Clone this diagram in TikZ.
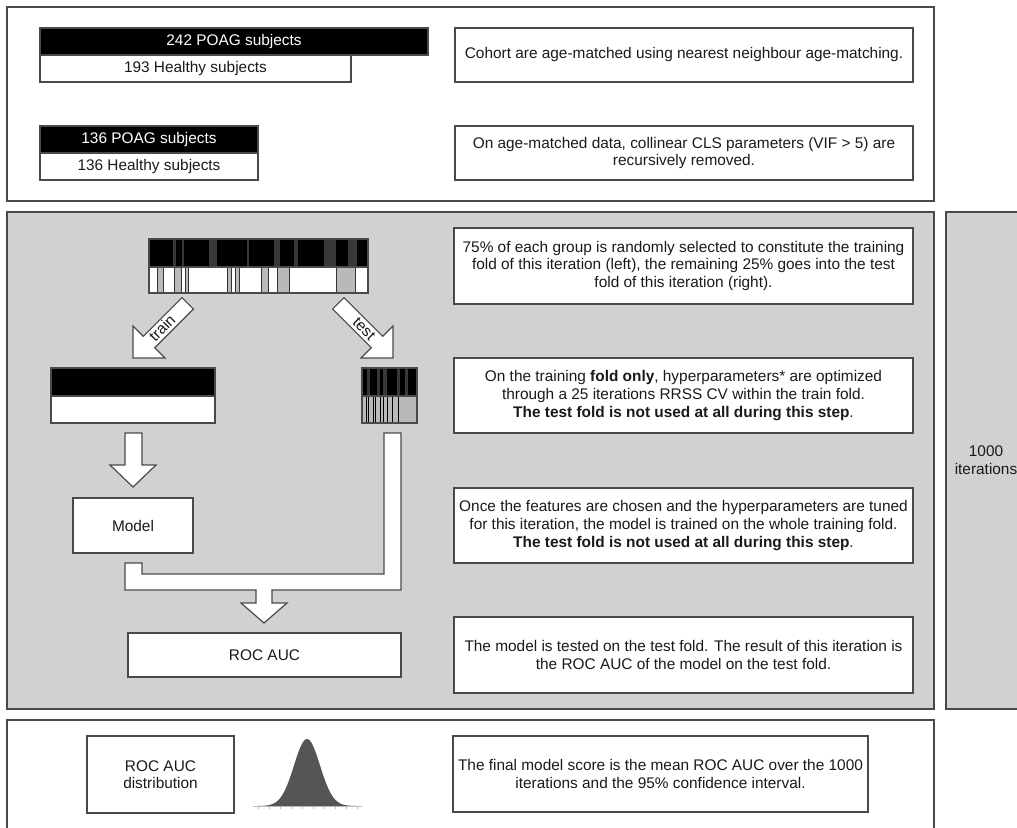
\documentclass[tikz,border=0pt]{standalone}
\usepackage{fontspec}
\setmainfont{Liberation Sans}
\definecolor{linecol}{HTML}{4A4A4A}
\definecolor{panelgray}{HTML}{D1D1D1}
\definecolor{txtcol}{HTML}{1A1A1A}
\definecolor{curvecol}{HTML}{555555}
\newcommand{\myfs}{\fontsize{15.4}{17.6}\selectfont}
\tikzset{
  ln/.style={draw=linecol, line width=1.2pt},
  frame/.style={ln},
  tbox/.style={ln, fill=white, align=center, inner sep=0pt, text=txtcol, font=\myfs},
  blackbar/.style={ln, fill=black, text=white, inner sep=0pt, font=\myfs},
  whitebar/.style={ln, fill=white, text=txtcol, inner sep=0pt, font=\myfs},
  blockarrow/.style={ln, fill=white, line join=miter},
  darkstripe/.style={fill=black!78},
  lightstripe/.style={fill=gray!55},
  stripeline/.style={draw=black!80, line width=0.6pt}
}
\begin{document}
\begin{tikzpicture}[x=1pt, y=-1pt]
\useasboundingbox (0,0) rectangle (1017,827);

% ---------- panels ----------
\draw[frame, fill=white] (7,7) rectangle (934,201);
\draw[frame, fill=panelgray] (7,212) rectangle (934,709);
\draw[frame, fill=panelgray] (946,212) rectangle (1040,709);
\draw[frame, fill=white] (7,720) rectangle (934,850);
\node[align=center, text=txtcol, font=\myfs] (iter) at (986,460) {1000\\iterations};

% ---------- top panel ----------
\node[blackbar, minimum width=388pt, minimum height=27pt] (poag1) at (234,41.5) {242 POAG subjects};
\node[whitebar, minimum width=311pt, minimum height=27pt] (healthy1) at (195.5,68.5) {193 Healthy subjects};
\node[blackbar, minimum width=218pt, minimum height=27pt] (poag2) at (149,139.5) {136 POAG subjects};
\node[whitebar, minimum width=218pt, minimum height=27pt] (healthy2) at (149,166.5) {136 Healthy subjects};

\node[tbox, minimum width=458pt, minimum height=54pt] (cohort) at (684,55)
  {Cohort are age-matched using nearest neighbour age-matching.};
\node[tbox, minimum width=458pt, minimum height=54pt] (vif) at (684,153)
  {On age-matched data, collinear CLS parameters (VIF > 5) are\\recursively removed.};

% ---------- shuffled bar ----------
\draw[ln, fill=black] (149,239) rectangle (368,267);
\draw[ln, fill=white] (149,267) rectangle (368,293);
\foreach \a/\b in {173/175.5,182/184,209/217,247/249,274/280,294/298,324/336,348/357}{
  \fill[darkstripe] (\a,240) rectangle (\b,266.5);
}
\foreach \a/\b in {157/163,174/181,185/188,227/231,235/239,261/268,277/289,336/355}{
  \fill[lightstripe] (\a,267.6) rectangle (\b,292.4);
  \draw[stripeline] (\a,267.6) -- (\a,292.4) (\b,267.6) -- (\b,292.4);
}
\draw[ln] (149,239) rectangle (368,293);
\draw[ln] (149,267) -- (368,267);
\node[inner sep=0pt, minimum width=219pt, minimum height=54pt] (shuffled) at (258.5,266) {};

% ---------- train / test arrows ----------
\draw[blockarrow] (133,358) -- (133,326) -- (143.3,336.3) -- (182,297.6) -- (193.4,309)
  -- (154.7,347.7) -- (165,358) -- cycle;
\node[rotate=45, text=txtcol, font=\myfs, inner sep=0pt] (trainlbl) at (162,328) {train};
\draw[blockarrow] (393,358) -- (393,326) -- (382.7,336.3) -- (344,297.6) -- (332.6,309)
  -- (371.3,347.7) -- (361,358) -- cycle;
\node[rotate=-45, text=txtcol, font=\myfs, inner sep=0pt] (testlbl) at (364,329) {test};

% ---------- train fold ----------
\draw[ln, fill=black] (51,368) rectangle (215,396);
\draw[ln, fill=white] (51,396) rectangle (215,423);
\node[inner sep=0pt, minimum width=164pt, minimum height=55pt] (trainfold) at (133,395.5) {};

% ---------- test fold ----------
\draw[ln, fill=black] (362,368) rectangle (417,396);
\fill[lightstripe] (362,396) rectangle (417,423);
\foreach \a/\b in {367/370,377/380,383/387,397/400,405/408}{
  \fill[darkstripe] (\a,369) rectangle (\b,395.5);
}
\foreach \x in {366,368,373,375,380,383,387,392,398}{
  \draw[draw=black, line width=0.8pt] (\x,396) -- (\x,423);
}
\draw[ln] (362,368) rectangle (417,423);
\draw[ln] (362,396) -- (417,396);
\node[inner sep=0pt, minimum width=55pt, minimum height=55pt] (testfold) at (389.5,395.5) {};

% ---------- train fold -> model ----------
\draw[blockarrow] (125,433) -- (142,433) -- (142,465) -- (156,465) -- (133,487)
  -- (110,465) -- (125,465) -- cycle;
\node[tbox, minimum width=120pt, minimum height=55pt] (model) at (133,525.5) {Model};

% ---------- model + test fold -> ROC AUC ----------
\draw[blockarrow] (125,563) -- (142,563) -- (142,574) -- (384,574) -- (384,433) -- (401,433)
  -- (401,590) -- (272,590) -- (272,603) -- (287,603) -- (264,623) -- (241,603)
  -- (256,603) -- (256,590) -- (125,590) -- cycle;
\node[tbox, minimum width=273pt, minimum height=44pt] (roc) at (264.5,655) {ROC AUC};

% ---------- gray panel texts ----------
\node[tbox, minimum width=459pt, minimum height=76pt] (split) at (683.5,266)
  {75\% of each group is randomly selected to constitute the training\\fold of this iteration (left), the remaining 25\% goes into the test\\fold of this iteration (right).};
\node[tbox, minimum width=459pt, minimum height=75pt] (hyper) at (683.5,395.5)
  {On the training \textbf{fold only}, hyperparameters* are optimized\\through a 25 iterations RRSS CV within the train fold.\\\textbf{The test fold is not used at all during this step}.};
\node[tbox, minimum width=459pt, minimum height=75pt] (trainstep) at (683.5,525.5)
  {Once the features are chosen and the hyperparameters are tuned\\for this iteration, the model is trained on the whole training fold.\\\textbf{The test fold is not used at all during this step}.};
\node[tbox, minimum width=459pt, minimum height=76pt] (teststep) at (683.5,655)
  {The model is tested on the test fold. The result of this iteration is\\the ROC AUC of the model on the test fold.};

% ---------- bottom panel ----------
\node[tbox, minimum width=147pt, minimum height=77pt] (dist) at (160.5,774.5) {ROC AUC\\distribution};
\fill[curvecol] plot[domain=258:356, samples=100] (\x,{806-67*exp(-((\x-307)*(\x-307))/338)}) -- cycle;
\draw[gray!55, line width=0.8pt] (253,806) -- (362,806);
\foreach \t in {258,269,280,291,302,313,324,335,346,357}{
  \draw[gray!55, line width=0.7pt] (\t,806) -- (\t,808.5);
}
\node[tbox, minimum width=415pt, minimum height=76pt] (final) at (660.5,774)
  {The final model score is the mean ROC AUC over the 1000\\iterations and the 95\% confidence interval.};
\end{tikzpicture}
\end{document}
